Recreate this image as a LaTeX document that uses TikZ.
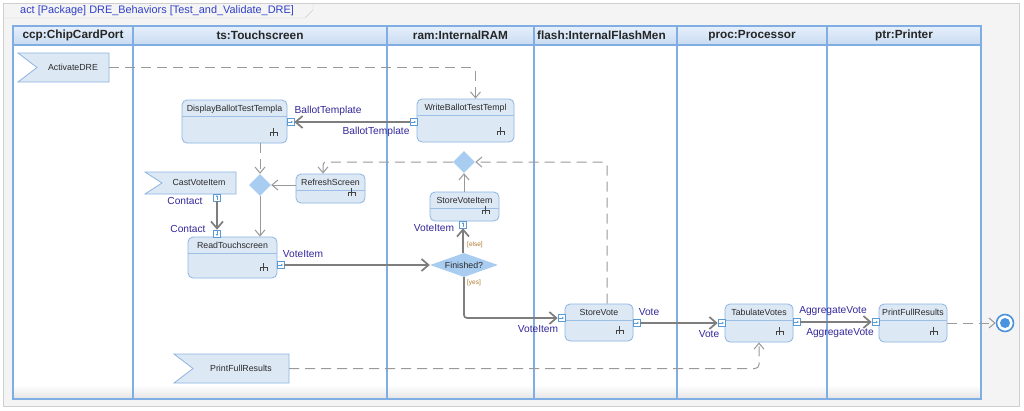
\documentclass[tikz,border=0pt]{standalone}
\usepackage{fontspec}
\setmainfont{Liberation Sans}
\usetikzlibrary{arrows.meta,shapes.geometric,calc}
\definecolor{framebg}{HTML}{F4F4F4}
\definecolor{framec}{HTML}{CFCFCF}
\definecolor{lanec}{HTML}{80AEE3}
\definecolor{headtop}{HTML}{E6F0FB}
\definecolor{headbot}{HTML}{C8DBF2}
\definecolor{boxfill}{HTML}{DDE8F5}
\definecolor{boxborder}{HTML}{8DB4E2}
\definecolor{divc}{HTML}{9DBFE6}
\definecolor{txtc}{HTML}{2A2A2A}
\definecolor{lblc}{HTML}{34289A}
\definecolor{titlec}{HTML}{3140C8}
\definecolor{guardc}{HTML}{B07A2A}
\definecolor{edgec}{HTML}{999999}
\definecolor{edgedark}{HTML}{7E7E7E}
\definecolor{diac}{HTML}{A9CCF1}
\definecolor{pinc}{HTML}{5B9BD5}
\definecolor{finalc}{HTML}{4A93DE}
\definecolor{rakec}{HTML}{444444}
\tikzset{
  actbox/.style={draw=boxborder, fill=boxfill, rounded corners=5pt, inner sep=0pt, line width=0.8pt},
  evtshape/.style={draw=boxborder, fill=boxfill, line width=0.8pt},
  anchorbox/.style={inner sep=0pt, draw=none},
  boxtxt/.style={font=\fontsize{8.8}{10}\selectfont, text=txtc, inner sep=0pt},
  lanetxt/.style={font=\bfseries\fontsize{11.8}{13}\selectfont, text=black!85, inner sep=0pt},
  lbl/.style={font=\fontsize{10.2}{11}\selectfont, text=lblc, inner sep=0pt},
  guardtxt/.style={font=\fontsize{6.5}{7}\selectfont, text=guardc, inner sep=0pt},
  pinbox/.style={draw=pinc, fill=white, minimum size=7pt, inner sep=0pt, line width=0.6pt},
  dia/.style={diamond, fill=diac, inner sep=0pt},
  ctrl/.style={draw=edgec, line width=1pt, dash pattern=on 10pt off 6pt, -{Straight Barb[length=6pt,width=10pt]}},
  thinflow/.style={draw=edgec, line width=1pt, -{Straight Barb[length=6pt,width=10pt]}},
  objflow/.style={draw=edgedark, line width=1.7pt, -{Straight Barb[length=7pt,width=12pt]}},
}
\newcommand\rakeat[1]{\draw[rakec, line width=0.7pt] #1 ++(-3.5,3.5) -- ++(0,-3.5) -- ++(7,0) -- ++(0,3.5) #1 ++(0,-4) -- ++(0,7.5);}
\newcommand\actbx[6]{%
  \node[actbox, minimum width={(#4)-(#2)}, minimum height={(#5)-(#3)}] (#1) at ({((#2)+(#4))/2},{((#3)+(#5))/2}) {};
  \draw[divc, line width=0.6pt] ([yshift=-17pt]#1.north west) -- ([yshift=-17pt]#1.north east);
  \node[boxtxt, anchor=base] at ([yshift=-11.5pt]#1.north) {#6};
  \rakeat{([xshift=-14pt,yshift=11pt]#1.south east)}%
}
\newcommand\pinat[4]{%
  \node[pinbox] (#1) at (#2,#3) {};
  \draw[pinc, line width=0.6pt, -{Latex[length=1.8pt,width=2.4pt]}] (#1.center) ++(#4+180:2.4) -- ++(#4:4.8);
}
\newcommand\evtbx[7]{% name x1 y1 x2 y2 notchx text
  \path[evtshape] (#2,#3) -- (#4,#3) -- (#4,#5) -- (#2,#5) -- (#6,{((#3)+(#5))/2}) -- cycle;
  \node[anchorbox, minimum width={(#4)-(#2)}, minimum height={(#5)-(#3)}] (#1) at ({((#2)+(#4))/2},{((#3)+(#5))/2}) {};
  \node[boxtxt] at ({((#6)+(#4))/2},{((#3)+(#5))/2-0.5}) {#7};
}
\begin{document}
\begin{tikzpicture}[x=1pt,y=-1pt]
\useasboundingbox (0,0) rectangle (1024,410);
% outer frame
\draw[draw=framec, fill=framebg] (3,3) rectangle (1019,406);
\draw[framec] (3,18) -- (305,18) -- (313,10) -- (313,3);
\node[font=\fontsize{10.9}{12}\selectfont, text=titlec, anchor=west, inner sep=0pt] (title) at (20,11) {act [Package] DRE\_Behaviors [Test\_and\_Validate\_DRE]};
% lanes
\fill[white] (13,26) rectangle (981,399);
\shade[top color=white, bottom color=black!10] (14,385) rectangle (980,398.5);
\shade[top color=headtop, bottom color=headbot] (13,26) rectangle (981,45);
\draw[lanec, line width=1.5pt] (13,26) rectangle (981,399);
\draw[lanec, line width=1.5pt] (13,45) -- (981,45);
\foreach \xx in {133,387,534,677,827} {\draw[lanec, line width=1.5pt] (\xx,26) -- (\xx,399);}
\node[lanetxt] (l1) at (73,35.5) {ccp:ChipCardPort};
\node[lanetxt] (l2) at (260,35.5) {ts:Touchscreen};
\node[lanetxt] (l3) at (460.5,35.5) {ram:InternalRAM};
\node[lanetxt, anchor=west] (l4) at (537,35.5) {flash:InternalFlashMen};
\node[lanetxt] (l5) at (752,35.5) {proc:Processor};
\node[lanetxt] (l6) at (904,35.5) {ptr:Printer};
% events
\evtbx{act}{18}{53}{109}{82}{37}{ActivateDRE}
\evtbx{cvi}{145}{172}{236}{194}{162}{CastVoteItem}
\evtbx{pe}{174}{354}{289}{383}{193}{PrintFullResults}
% actions
\actbx{dbt}{182}{100}{287}{143}{DisplayBallotTestTempla}
\actbx{wbt}{417}{99}{514}{142}{WriteBallotTestTempl}
\actbx{rs}{296}{174}{365}{203}{RefreshScreen}
\actbx{svi}{430}{192}{499}{221}{StoreVoteItem}
\actbx{rts}{188}{237}{277}{278}{ReadTouchscreen}
\actbx{sv}{565}{304}{633}{341}{StoreVote}
\actbx{tv}{725}{304}{793}{342}{TabulateVotes}
\actbx{pfr}{879}{304}{947}{342}{PrintFullResults}
% decisions
\node[dia, minimum width=22pt, minimum height=22pt] (d1) at (260,185) {};
\node[dia, minimum width=22pt, minimum height=22pt] (d2) at (464,162) {};
\node[dia, minimum width=68pt, minimum height=24pt] (fin) at (464,265) {};
\node[boxtxt] (fintxt) at (464,265) {Finished?};
% final node
\node[circle, draw=finalc, fill=white, line width=1.6pt, minimum size=17pt, inner sep=0pt] (fnl) at (1005,323) {};
\node[circle, fill=finalc, minimum size=10pt, inner sep=0pt] (fnlin) at (1005,323) {};
% pins
\pinat{pD}{290.5}{122}{0}
\pinat{pW}{413.5}{122}{0}
\pinat{pC}{217}{197.5}{270}
\pinat{pR}{217}{233.5}{90}
\pinat{pRT}{280.5}{265}{0}
\pinat{pS}{463}{224.5}{270}
\pinat{pSVi}{561.5}{318}{0}
\pinat{pSVo}{636.5}{323}{0}
\pinat{pTi}{721.5}{323}{0}
\pinat{pTo}{796.5}{322}{0}
\pinat{pPi}{875.5}{322}{0}
% control flows
\draw[ctrl, rounded corners=3pt] (act.east) -| ([xshift=10pt]wbt.north);
\draw[ctrl] (d1.north |- dbt.south) -- (d1.north);
\draw[thinflow] (d1.east -| rs.west) -- (d1.east);
\draw[thinflow] (d1.south) -- (d1.south |- rts.north);
\draw[ctrl, rounded corners=3pt] (d2.west) -| ([xshift=-7.5pt]rs.north);
\draw[thinflow] (d2.south |- svi.north) -- (d2.south);
\draw[ctrl, rounded corners=4pt] ([xshift=8pt]sv.north) |- (d2.east);
\draw[ctrl] (pfr.east) -- (fnl.west);
\draw[ctrl, rounded corners=4pt] (pe.east) -| (tv.south);
% object flows
\draw[objflow] (pW.west) -- (pD.east);
\draw[objflow] (pC.south) -- (pR.north);
\draw[objflow] (pRT.east) -- (fin.west);
\draw[objflow] (pS.south |- fin.north) -- (pS.south);
\draw[objflow, rounded corners=3pt] (fin.south) |- (pSVi.west);
\draw[objflow] (pSVo.east) -- (pTi.west);
\draw[objflow] (pTo.east) -- (pPi.west);
% labels
\node[lbl] (lb1) at (328,111) {BallotTemplate};
\node[lbl] (lb2) at (376,132) {BallotTemplate};
\node[lbl] (lb3) at (185,201) {Contact};
\node[lbl] (lb4) at (188,229) {Contact};
\node[lbl] (lb5) at (303,254) {VoteItem};
\node[lbl] (lb6) at (434,228) {VoteItem};
\node[lbl] (lb7) at (538,329) {VoteItem};
\node[lbl] (lb8) at (649,312) {Vote};
\node[lbl] (lb9) at (709,334) {Vote};
\node[lbl] (lb10) at (833,311) {AggregateVote};
\node[lbl] (lb11) at (840,333) {AggregateVote};
\node[guardtxt] (g1) at (475,245) {[else]};
\node[guardtxt] (g2) at (474,283) {[yes]};
\end{tikzpicture}
\end{document}
